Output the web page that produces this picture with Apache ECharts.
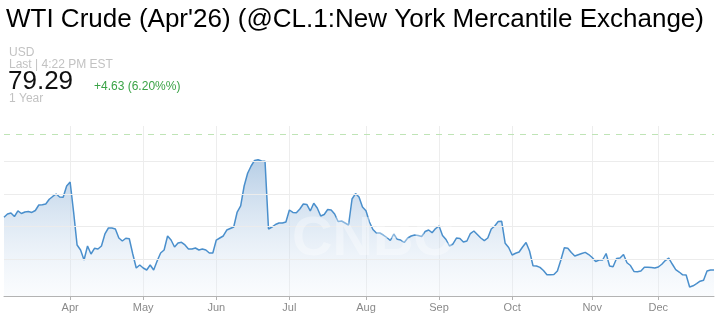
<!DOCTYPE html>
<html>
<head>
<meta charset="utf-8">
<script src="https://cdn.jsdelivr.net/npm/echarts@6/dist/echarts.min.js"></script>
<style>
html,body{margin:0;padding:0;background:#fff;}
#chart{width:720px;height:318px;}
</style>
</head>
<body>
<div id="chart"></div>
<script>
// ---- Data ----
const dates = [
"2025-03-05","2025-03-06","2025-03-07","2025-03-10","2025-03-11","2025-03-12","2025-03-13","2025-03-14","2025-03-17","2025-03-18","2025-03-19","2025-03-20","2025-03-21","2025-03-24","2025-03-25","2025-03-26","2025-03-27","2025-03-28","2025-03-31",
"2025-04-01","2025-04-02","2025-04-03","2025-04-04","2025-04-07","2025-04-08","2025-04-09","2025-04-10","2025-04-11","2025-04-14","2025-04-15","2025-04-16","2025-04-17","2025-04-21","2025-04-22","2025-04-23","2025-04-24","2025-04-25","2025-04-28","2025-04-29","2025-04-30",
"2025-05-01","2025-05-02","2025-05-05","2025-05-06","2025-05-07","2025-05-08","2025-05-09","2025-05-12","2025-05-13","2025-05-14","2025-05-15","2025-05-16","2025-05-19","2025-05-20","2025-05-21","2025-05-22","2025-05-23","2025-05-27","2025-05-28","2025-05-29","2025-05-30",
"2025-06-02","2025-06-03","2025-06-04","2025-06-05","2025-06-06","2025-06-09","2025-06-10","2025-06-11","2025-06-12","2025-06-13","2025-06-16","2025-06-17","2025-06-18","2025-06-19","2025-06-20","2025-06-23","2025-06-24","2025-06-25","2025-06-26","2025-06-27","2025-06-30",
"2025-07-01","2025-07-02","2025-07-03","2025-07-07","2025-07-08","2025-07-09","2025-07-10","2025-07-11","2025-07-14","2025-07-15","2025-07-16","2025-07-17","2025-07-18","2025-07-21","2025-07-22","2025-07-23","2025-07-24","2025-07-25","2025-07-28","2025-07-29","2025-07-30","2025-07-31",
"2025-08-01","2025-08-04","2025-08-05","2025-08-06","2025-08-07","2025-08-08","2025-08-11","2025-08-12","2025-08-13","2025-08-14","2025-08-15","2025-08-18","2025-08-19","2025-08-20","2025-08-21","2025-08-22","2025-08-25","2025-08-26","2025-08-27","2025-08-28","2025-08-29",
"2025-09-02","2025-09-03","2025-09-04","2025-09-05","2025-09-08","2025-09-09","2025-09-10","2025-09-11","2025-09-12","2025-09-15","2025-09-16","2025-09-17","2025-09-18","2025-09-19","2025-09-22","2025-09-23","2025-09-24","2025-09-25","2025-09-26","2025-09-29","2025-09-30",
"2025-10-01","2025-10-02","2025-10-03","2025-10-06","2025-10-07","2025-10-08","2025-10-09","2025-10-10","2025-10-13","2025-10-14","2025-10-15","2025-10-16","2025-10-17","2025-10-20","2025-10-21","2025-10-22","2025-10-23","2025-10-24","2025-10-27","2025-10-28","2025-10-29","2025-10-30","2025-10-31",
"2025-11-03","2025-11-04","2025-11-05","2025-11-06","2025-11-07","2025-11-10","2025-11-11","2025-11-12","2025-11-13","2025-11-14","2025-11-17","2025-11-18","2025-11-19","2025-11-20","2025-11-21","2025-11-24","2025-11-25","2025-11-26","2025-11-28",
"2025-12-01","2025-12-02","2025-12-03","2025-12-04","2025-12-05","2025-12-08","2025-12-09","2025-12-10","2025-12-11","2025-12-12","2025-12-15","2025-12-16","2025-12-17","2025-12-18","2025-12-19","2025-12-22","2025-12-23"
];

const prices = [
66.45,66.95,67.11,66.57,67.42,67.03,67.26,67.34,67.19,67.49,
68.34,68.39,68.49,69.22,69.65,70.03,69.57,69.52,71.26,71.88,
67.26,62.19,61.42,59.88,62.03,60.80,61.68,61.57,62.03,63.88,
64.80,64.80,64.65,63.26,62.80,63.22,63.15,60.80,58.65,59.11,
58.65,58.34,59.11,58.34,59.72,60.95,61.42,63.57,62.95,61.88,
62.49,62.60,62.19,61.57,61.57,61.72,61.42,61.57,61.42,60.95,
60.95,62.95,63.26,63.57,64.49,64.72,64.95,67.26,68.19,71.26,
73.22,74.34,75.19,75.31,75.11,75.06,64.65,64.95,65.34,65.57,
65.57,65.72,67.57,67.19,67.15,67.72,68.49,68.42,67.42,68.60,
67.88,66.65,66.88,67.65,67.57,66.95,65.80,65.88,65.57,65.26,
69.26,70.10,69.57,68.03,67.46,65.72,64.57,64.03,64.03,63.72,
63.34,62.88,63.88,63.06,62.95,62.57,63.26,63.57,63.72,63.65,
63.49,64.26,64.49,64.08,64.72,65.11,63.65,63.03,62.03,62.34,
63.26,63.19,62.65,62.80,63.95,64.34,63.80,63.26,62.85,63.26,
64.65,65.11,65.80,65.83,62.45,61.80,60.65,60.91,61.11,61.88,
62.57,61.26,59.00,58.95,58.75,58.26,57.62,57.62,57.65,58.18,
59.88,61.75,61.68,61.03,60.49,60.69,60.88,61.05,60.72,60.26,
59.65,59.88,59.88,60.88,58.95,58.83,60.11,60.18,60.72,59.45,
59.03,58.12,58.06,58.18,58.75,58.75,58.72,58.65,58.80,59.22,
59.80,60.15,59.26,58.40,58.03,57.60,57.57,55.72,55.91,56.23,
56.62,56.77,58.18,58.34,58.34
];

const monthNames = ["Jan","Feb","Mar","Apr","May","Jun","Jul","Aug","Sep","Oct","Nov","Dec"];
const gridValues = [60, 65, 70, 75];
const lastPrice = 79.29;
const yMin = 54.34;
const yMax = 80.49;

const titleText = "WTI Crude (Apr'26) (@CL.1:New York Mercantile Exchange)";
const currencyText = "USD";
const lastText = "Last | 4:22 PM EST";
const priceText = "79.29";
const changeText = "+4.63 (6.20%%)";
const rangeText = "1 Year";

// first trading day of each month (except the very first category)
const monthStart = new Set();
for (let i = 1; i < dates.length; i++) {
  if (dates[i].slice(5, 7) !== dates[i - 1].slice(5, 7)) monthStart.add(i);
}
const isMonthStart = (idx) => monthStart.has(idx);

const chart = echarts.init(document.getElementById('chart'), null, {renderer: 'canvas'});
const FONT = '"Liberation Sans", Arial, sans-serif';

chart.setOption({
  animation: false,
  backgroundColor: '#ffffff',
  grid: {left: 4, right: 6, top: 126, bottom: 22, containLabel: false},
  xAxis: {
    type: 'category',
    data: dates,
    boundaryGap: false,
    axisLine: {show: true, lineStyle: {color: '#b3b3b3', width: 1}},
    axisTick: {show: true, interval: isMonthStart, length: 4, lineStyle: {color: '#b3b3b3'}},
    axisLabel: {
      show: true,
      interval: isMonthStart,
      formatter: (v) => monthNames[parseInt(v.slice(5, 7), 10) - 1],
      color: '#8a8a8a',
      fontSize: 11,
      fontFamily: FONT,
      margin: 6
    },
    splitLine: {show: true, interval: isMonthStart, lineStyle: {color: '#ededed', width: 1}}
  },
  yAxis: {
    type: 'value',
    min: yMin,
    max: yMax,
    axisLine: {show: false},
    axisTick: {show: false},
    axisLabel: {show: false},
    splitLine: {show: false}
  },
  series: [{
    type: 'line',
    data: prices,
    showSymbol: false,
    symbol: 'none',
    smooth: false,
    lineStyle: {color: '#4a8fcc', width: 1.5},
    areaStyle: {
      color: new echarts.graphic.LinearGradient(0, 0, 0, 1, [
        {offset: 0, color: 'rgba(140,177,215,0.9)'},
        {offset: 1, color: 'rgba(235,242,250,0.35)'}
      ])
    },
    markLine: {
      silent: true,
      symbol: 'none',
      label: {show: false},
      animation: false,
      data: gridValues.map(v => ({yAxis: v, lineStyle: {color: '#ececec', type: 'solid', width: 1}}))
        .concat([{yAxis: lastPrice, lineStyle: {color: '#bfe4b6', type: [6, 6], width: 1}}])
    }
  }],
  graphic: [
    {type: 'text', left: 6, top: 7, style: {text: titleText, font: '26px ' + FONT, fill: '#000'}},
    {type: 'text', left: 9, top: 47, style: {text: currencyText, font: '12px ' + FONT, fill: '#c2c2c2'}},
    {type: 'text', left: 9, top: 59, style: {text: lastText, font: '12px ' + FONT, fill: '#c2c2c2'}},
    {type: 'text', left: 8, top: 69, style: {text: priceText, font: '26px ' + FONT, fill: '#111'}},
    {type: 'text', left: 94, top: 81, style: {text: changeText, font: '12px ' + FONT, fill: '#3aa346'}},
    {type: 'text', left: 9, top: 93, style: {text: rangeText, font: '12px ' + FONT, fill: '#c2c2c2'}},
    {type: 'text', left: 292, top: 212, z: 100, style: {text: 'CNBC', font: 'bold 56px ' + FONT, fill: 'rgba(255,255,255,0.35)'}}
  ]
});
</script>
</body>
</html>
